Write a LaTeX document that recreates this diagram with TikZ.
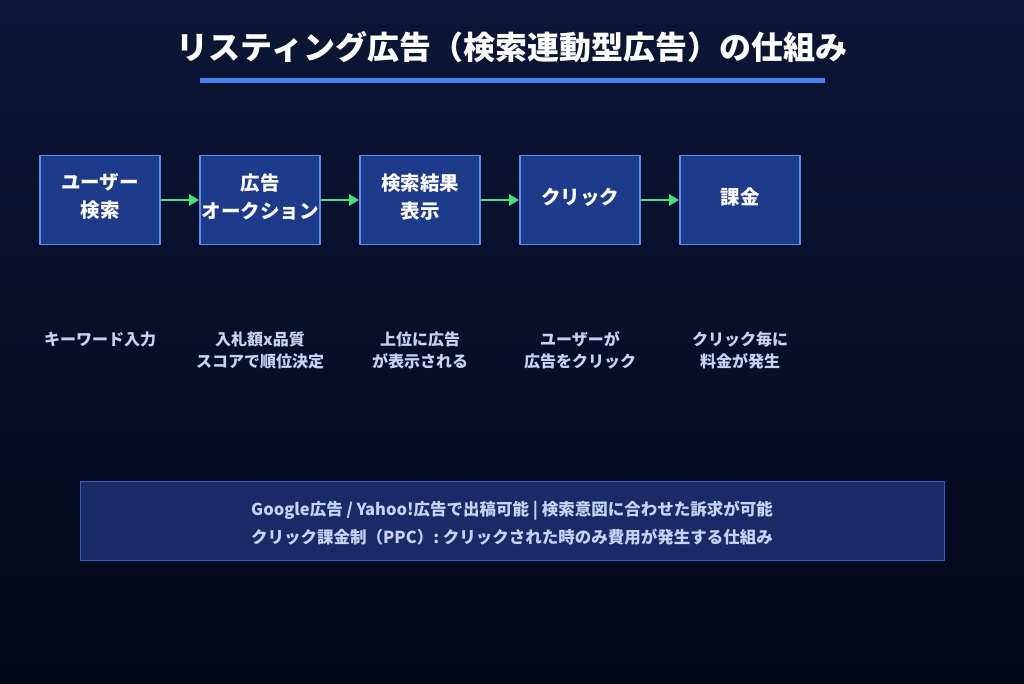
\documentclass[tikz,border=0pt]{standalone}
\usepackage{fontspec}
\setmainfont{Noto Sans CJK JP}
\usepackage{tikz}
\usetikzlibrary{positioning,arrows.meta}
\definecolor{bgtop}{HTML}{0C1636}
\definecolor{bgbot}{HTML}{03071A}
\definecolor{boxfill}{HTML}{1E3A8A}
\definecolor{boxline}{HTML}{5A8DF0}
\definecolor{barblue}{HTML}{4A82F0}
\definecolor{flowgreen}{HTML}{4ADE80}
\definecolor{notetext}{HTML}{C5D2F5}
\definecolor{infofill}{HTML}{182B66}
\definecolor{infoline}{HTML}{3A5DBE}

\begin{document}
\begin{tikzpicture}[x=1pt,y=-1pt]%1 unit = 1px
    \tikzstyle{stage} = [draw=boxline, line width=1.8pt, fill=boxfill,
    minimum width=120pt, minimum height=89pt, inner sep=0pt, text=white,
    align=center, text depth=8pt, font=\fontsize{19.5}{28}\selectfont\bfseries]
    \tikzstyle{note} = [anchor=north, text=notetext, align=center,
    font=\fontsize{16}{22}\selectfont\bfseries] \tikzstyle{flow} =
    [draw=flowgreen, line width=2.5pt, -{Triangle[length=10pt,width=11pt]}]
    % background and title
    \shade[top color=bgtop, bottom color=bgbot] (0,0) rectangle (1024,683);
    \node[text=white, font=\fontsize{32}{36}\selectfont\bfseries] (title)
    at (512,47) {リスティング広告（検索連動型広告）の仕組み};
    \fill[barblue] (200,78) rectangle (825,83);
    % the five stages
    \node[stage] (search) at (100,200) {ユーザー\\検索}; \node[stage]
    (auction) at (260,200) {広告\\オークション}; \node[stage] (result) at
    (420,200) {検索結果\\表示}; \node[stage] (click) at (580,200)
    {クリック}; \node[stage] (charge) at (740,200) {課金};
    \draw[flow] (search) -- (auction); \draw[flow] (auction) -- (result);
    \draw[flow] (result) -- (click); \draw[flow] (click) -- (charge);
    % notes under the stages
    \node[note] (n1) at (100,328) {キーワード入力}; \node[note] (n2) at
    (260,328) {入札額x品質\\スコアで順位決定}; \node[note] (n3) at
    (420,328) {上位に広告\\が表示される}; \node[note] (n4) at (580,328)
    {ユーザーが\\広告をクリック}; \node[note] (n5) at (740,328)
    {クリック毎に\\料金が発生};
    % summary
    \node[draw=infoline, line width=0.8pt, fill=infofill, minimum
    width=864pt, minimum height=79pt, text=notetext, align=center,
    font=\fontsize{16.5}{28}\selectfont\bfseries] (info) at (512,520.5)
    {\rule{0pt}{20pt}Google広告 / Yahoo!広告で出稿可能 | 検索意図に合わせた訴求が可能\\
      クリック課金制（PPC）: クリックされた時のみ費用が発生する仕組み};
  \end{tikzpicture}
\end{document}
